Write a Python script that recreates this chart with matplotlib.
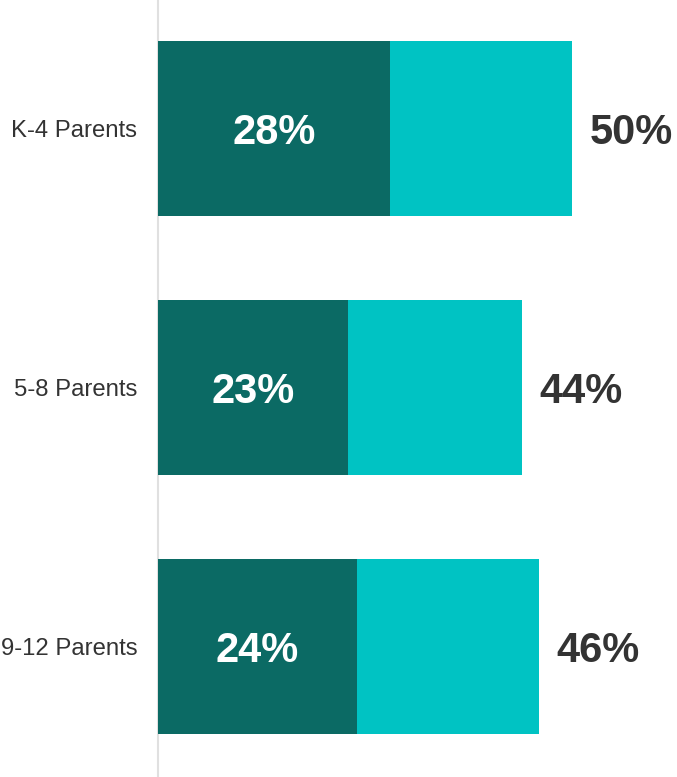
import matplotlib
matplotlib.use('Agg')
import matplotlib.pyplot as plt
import numpy as np

plt.rcParams['font.family'] = ['Liberation Sans', 'DejaVu Sans']

# Dati
gruppi = ['K-4 Parents', '5-8 Parents', '9-12 Parents']
quota_scura = [28, 23, 24]     # segmento scuro
totali = [50, 44, 46]          # totale barra
quota_chiara = [t - s for t, s in zip(totali, quota_scura)]

col_scuro = '#0b6a64'
col_chiaro = '#00c3c3'
col_testo = '#333333'

fig = plt.figure(figsize=(6.77, 7.77), dpi=100)
ax = fig.add_axes([158 / 677, 0, 1 - 158 / 677, 1])

y = np.arange(len(gruppi))
altezza = 175 / 259

ax.barh(y, quota_scura, height=altezza, color=col_scuro, zorder=2)
ax.barh(y, quota_chiara, left=quota_scura, height=altezza, color=col_chiaro, zorder=2)

# Etichette dentro il segmento scuro
for yi, v in zip(y, quota_scura):
    ax.text(v / 2, yi, f'{v}%', color='white', fontsize=30, fontweight='bold',
            ha='center', va='center_baseline', zorder=3)

# Etichette totali a destra
for yi, t in zip(y, totali):
    ax.annotate(f'{t}%', xy=(t, yi), xytext=(12.5, 0), textcoords='offset points',
                color=col_testo, fontsize=30, fontweight='bold',
                ha='left', va='center_baseline')

ax.set_xlim(0, 519 / 8.28)
ax.set_ylim(2.505, -0.495)

ax.set_yticks(y)
ax.set_yticklabels(gruppi, fontsize=17.2, color=col_testo)
ax.tick_params(axis='y', length=0, pad=15)
ax.set_xticks([])

for s in ['top', 'right', 'bottom']:
    ax.spines[s].set_visible(False)
ax.spines['left'].set_color('#e0e0e0')
ax.spines['left'].set_linewidth(1.5)
ax.spines['left'].set_zorder(1)

fig.savefig('out.png', dpi=100)
